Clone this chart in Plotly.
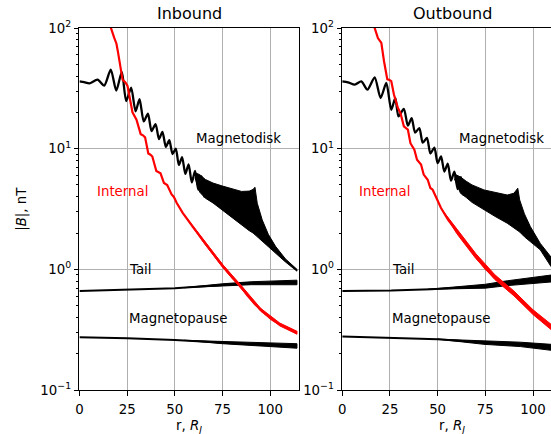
import math
import plotly.graph_objects as go

# ---------------- data ----------------
# Inbound panel
md_in_r = [0, 2.5, 5.2, 9.5, 13.0, 16.4, 19.3, 22.2, 24.5, 27.1, 29.4, 31.5, 33.7, 35.9, 37.8,
           39.9, 41.7, 43.5, 45.3, 47.1, 48.8, 50.5, 52.1, 53.8, 55.5, 57.2, 58.9, 60.6, 62.3,
           64.0, 65.6]
md_in_b = [36.1, 35.6, 34.8, 37.3, 33.3, 45.2, 30.3, 43.2, 24.8, 32.0, 20.4, 25.7, 16.8, 19.5, 14.0,
           16.0, 12.0, 13.8, 10.35, 11.75, 9.02, 10.0, 7.33, 8.51, 6.17, 7.41, 5.25, 6.53, 4.57,
           5.89, 3.94]
md_in_band_r = [60.6, 63, 66, 70, 75, 80, 85, 89, 91, 92, 93.2, 95.8, 99, 102.8, 108, 114]
md_in_band_hi = [6.31, 6.10, 5.56, 5.19, 4.90, 4.62, 4.42, 4.45, 4.59, 4.79, 3.53, 2.57, 1.95, 1.55, 1.22, 1.0]
md_in_band_lo = [5.75, 4.37, 3.89, 3.55, 3.09, 2.69, 2.34, 2.09, 2.0, 1.95, 1.86, 1.72, 1.55, 1.36, 1.15, 0.966]

int_in_r = [15.8, 16.5, 18.2, 19.4, 20.2, 21.5, 22.6, 24.0, 25.2, 27.8, 29.0, 29.9, 32.1, 33.3, 34.4,
            36.1, 37.2, 38.2, 40.3, 41.5, 42.5, 44.3, 45.2, 46.0, 48.3, 49.5, 51.0, 54.2, 60, 65, 70,
            75, 80, 84, 88, 92, 96, 100.7, 106, 110, 114]
int_in_b = [112, 100, 83.2, 74.1, 63.1, 46.8, 37.2, 35.5, 33.1, 20.0, 18.4, 17.4, 13.2, 12.9, 12.4,
            9.12, 8.91, 8.61, 6.53, 6.41, 6.24, 5.19, 5.11, 4.99, 4.17, 3.98, 3.55, 2.92, 2.19, 1.72, 1.35,
            1.07, 0.861, 0.741, 0.610, 0.513, 0.447, 0.385, 0.343, 0.320, 0.299]
int_in_band_r = [55, 65, 75, 85, 95, 105, 114]
int_in_band_hi = [2.82, 1.77, 1.10, 0.728, 0.475, 0.359, 0.307]
int_in_band_lo = [2.82, 1.67, 1.04, 0.689, 0.450, 0.340, 0.290]

tail_in_r = [0, 25, 50, 75, 87, 100, 114]
tail_in_b = [0.662, 0.675, 0.697, 0.743, 0.767, 0.771, 0.780]
tail_in_band_r = [55, 75, 90, 114]
tail_in_band_hi = [0.705, 0.759, 0.789, 0.813]
tail_in_band_lo = [0.705, 0.728, 0.746, 0.745]

mp_in_r = [0, 25, 50, 75, 94, 114]
mp_in_b = [0.274, 0.269, 0.260, 0.247, 0.237, 0.232]
mp_in_band_r = [55, 75, 95, 114]
mp_in_band_hi = [0.258, 0.252, 0.244, 0.242]
mp_in_band_lo = [0.258, 0.242, 0.230, 0.222]

# Outbound panel
md_out_r = [0, 3, 6.6, 10, 13.2, 17, 20.1, 23.1, 25.7, 27.8, 29.5, 32.3, 34.4, 36.4, 38.2, 40.4,
            42.2, 44.4, 46.2, 48.3, 50.0, 51.8, 53.5, 55.3, 57.0, 58.8, 60.5, 62.2, 63.8]
md_out_b = [36.1, 35.5, 33.9, 36.1, 30.8, 39.0, 26.3, 35.0, 21.0, 26.3, 18.5, 21.4, 15.5, 17.9, 13.6,
            14.8, 11.2, 12.3, 9.12, 10.2, 7.59, 8.61, 6.46, 7.50, 5.43, 6.46, 4.62, 5.82, 4.07]
md_out_band_r = [58.8, 62, 65, 68, 74.3, 80, 86.5, 90, 92, 93, 95.5, 98.6, 103.8, 109.5, 113]
md_out_band_hi = [6.17, 5.82, 5.37, 5.01, 4.55, 4.32, 4.13, 4.27, 4.70, 3.76, 2.88, 2.26, 1.64, 1.26, 1.10]
md_out_band_lo = [5.62, 4.27, 3.94, 3.59, 3.10, 2.75, 2.41, 2.19, 2.09, 2.04, 1.86, 1.68, 1.45, 1.05, 0.955]

int_out_r = [16.5, 17, 18.7, 20.5, 21.9, 23.6, 24.6, 25.7, 27.1, 29.2, 30.5, 32.3, 34.4, 35.75, 37.8,
             39.2, 41.3, 42.7, 44.8, 46.2, 47.4, 49.1, 51.7, 55.5, 59.5, 63.5, 67.3, 71.5, 75.4, 80,
             84, 88.5, 93.4, 98, 102, 106, 109.5, 113]
int_out_b = [112, 100, 82.6, 75.2, 53.0, 37.6, 37.2, 36.3, 28.1, 21.7, 19.8, 15.3, 14.4, 11.1, 9.8,
             8.1, 7.38, 6.1, 5.53, 4.72, 4.57, 3.98, 3.24, 2.57, 2.12, 1.74, 1.45, 1.20, 1.0, 0.861,
             0.759, 0.661, 0.556, 0.473, 0.412, 0.363, 0.331, 0.302]
int_out_band_r = [52, 60, 70, 80, 90, 100, 109.5, 113]
int_out_band_hi = [3.17, 2.17, 1.35, 0.902, 0.661, 0.462, 0.347, 0.316]
int_out_band_lo = [3.17, 1.98, 1.23, 0.822, 0.603, 0.422, 0.316, 0.288]

tail_out_r = [0, 25.7, 46.5, 75, 86.5, 98.6, 109.5, 113]
tail_out_b = [0.662, 0.667, 0.684, 0.724, 0.767, 0.798, 0.841, 0.851]
tail_out_band_r = [45, 75, 86.5, 109.5, 113]
tail_out_band_hi = [0.683, 0.752, 0.804, 0.899, 0.912]
tail_out_band_lo = [0.683, 0.698, 0.733, 0.787, 0.794]

mp_out_r = [0, 25.7, 50, 74.3, 93.4, 109.5, 113]
mp_out_b = [0.277, 0.269, 0.264, 0.247, 0.239, 0.226, 0.223]
mp_out_band_r = [50, 74.3, 93.4, 109.5, 113]
mp_out_band_hi = [0.264, 0.255, 0.249, 0.239, 0.237]
mp_out_band_lo = [0.264, 0.239, 0.229, 0.213, 0.210]

x_ticks = [0, 25, 50, 75, 100]
y_ticks = [0.1, 1, 10, 100]
y_ticktext = ["10<sup>\u22121</sup>", "10<sup>0</sup>", "10<sup>1</sup>", "10<sup>2</sup>"]
y_minor = [m * d for d in (0.1, 1, 10) for m in range(2, 10)]

labels = [("Magnetodisk", 60, 11, "black"), ("Internal", 8, 4, "red"),
          ("Tail", 25, 0.9, "black"), ("Magnetopause", 25, 0.35, "black")]

# ---------------- figure ----------------
W, H = 551, 434
FONT = "DejaVu Sans"
fig = go.Figure()


def band(r, hi, lo, color, xa, ya):
    fig.add_trace(go.Scatter(x=list(r) + list(r)[::-1], y=list(hi) + list(lo)[::-1],
                             mode="lines", fill="toself", fillcolor=color,
                             line=dict(color=color, width=1), hoverinfo="skip",
                             xaxis=xa, yaxis=ya))


def line(r, b, color, xa, ya, spline=False, width=2.0):
    fig.add_trace(go.Scatter(x=r, y=b, mode="lines",
                             line=dict(color=color, width=width,
                                       shape="spline" if spline else "linear",
                                       smoothing=0.7),
                             xaxis=xa, yaxis=ya))


panels = [
    ("x", "y", md_in_r, md_in_b, md_in_band_r, md_in_band_hi, md_in_band_lo,
     int_in_r, int_in_b, int_in_band_r, int_in_band_hi, int_in_band_lo,
     tail_in_r, tail_in_b, tail_in_band_r, tail_in_band_hi, tail_in_band_lo,
     mp_in_r, mp_in_b, mp_in_band_r, mp_in_band_hi, mp_in_band_lo),
    ("x2", "y2", md_out_r, md_out_b, md_out_band_r, md_out_band_hi, md_out_band_lo,
     int_out_r, int_out_b, int_out_band_r, int_out_band_hi, int_out_band_lo,
     tail_out_r, tail_out_b, tail_out_band_r, tail_out_band_hi, tail_out_band_lo,
     mp_out_r, mp_out_b, mp_out_band_r, mp_out_band_hi, mp_out_band_lo),
]

for p in panels:
    xa, ya = p[0], p[1]
    (mdr, mdb, mdbr, mdbh, mdbl, ir, ib, ibr, ibh, ibl,
     tr, tb, tbr, tbh, tbl, mr, mb, mbr, mbh, mbl) = p[2:]
    line(tr, tb, "black", xa, ya)
    band(tbr, tbh, tbl, "black", xa, ya)
    line(mr, mb, "black", xa, ya)
    band(mbr, mbh, mbl, "black", xa, ya)
    line(mdr, mdb, "black", xa, ya, spline=True, width=2.3)
    band(mdbr, mdbh, mdbl, "black", xa, ya)
    line(ir, ib, "red", xa, ya, width=2.2)
    band(ibr, ibh, ibl, "red", xa, ya)

L1, R1 = 76.0, 297.0
L2 = 340.7
axis_common = dict(showline=True, linecolor="black", linewidth=1, ticks="outside",
                   ticklen=4.7, tickwidth=1, tickcolor="black", showgrid=True,
                   gridcolor="#b0b0b0", gridwidth=1, zeroline=False,
                   tickfont=dict(family=FONT, size=13.33, color="black"))

yaxis_common = dict(axis_common, type="log", range=[-1, 2], tickvals=y_ticks,
                    ticktext=y_ticktext,
                    minor=dict(tickvals=y_minor, ticks="outside", ticklen=2.7,
                               tickwidth=0.8, tickcolor="black", showgrid=False))

fig.update_layout(
    width=W, height=H,
    margin=dict(l=0, r=0, t=28, b=44, pad=0),
    paper_bgcolor="white", plot_bgcolor="white", showlegend=False,
    font=dict(family=FONT, size=13.33, color="black"),
    xaxis=dict(axis_common, domain=[L1 / W, R1 / W], range=[0, 115], tickvals=x_ticks,
               mirror=True, anchor="y", ticklabelstandoff=2),
    xaxis2=dict(axis_common, domain=[L2 / W, 1.0], range=[0, (W - L2) / 1.922],
                tickvals=x_ticks, mirror=True, anchor="y2", ticklabelstandoff=2),
    yaxis=dict(yaxis_common, anchor="x", mirror=True),
    yaxis2=dict(yaxis_common, anchor="x2", mirror=False),
)

ann = []
for xa, ya in (("x", "y"), ("x2", "y2")):
    for txt, xv, yv, col in labels:
        ann.append(dict(text=txt, x=xv, y=math.log10(yv), xref=xa, yref=ya,
                        xanchor="left", yanchor="bottom", yshift=-4, showarrow=False,
                        font=dict(family=FONT, size=13.33, color=col)))

ann.append(dict(text="Inbound", x=(L1 + R1) / 2 / W, y=1, xref="paper", yref="paper",
                xanchor="center", yanchor="bottom", yshift=3, showarrow=False,
                font=dict(family=FONT, size=16, color="black")))
ann.append(dict(text="Outbound", x=451.7 / W, y=1, xref="paper", yref="paper",
                xanchor="center", yanchor="bottom", yshift=3, showarrow=False,
                font=dict(family=FONT, size=16, color="black")))
for cx in ((L1 + R1) / 2, 451.7):
    ann.append(dict(text="r, <i>R</i><sub><i>J</i></sub>", x=cx / W, y=0, xref="paper",
                    yref="paper", xanchor="center", yanchor="top", yshift=-26,
                    showarrow=False, font=dict(family=FONT, size=13.33, color="black")))
ann.append(dict(text="|<i>B</i>|, nT", x=18 / W, y=0.5, xref="paper", yref="paper",
                xanchor="center", yanchor="middle", textangle=-90, showarrow=False,
                font=dict(family=FONT, size=13.33, color="black")))
fig.update_layout(annotations=ann)

fig.write_html("out.html",
               config={"displayModeBar": False},
               post_script="document.body.style.margin='0px';"
                           "document.body.style.overflow='hidden';")
